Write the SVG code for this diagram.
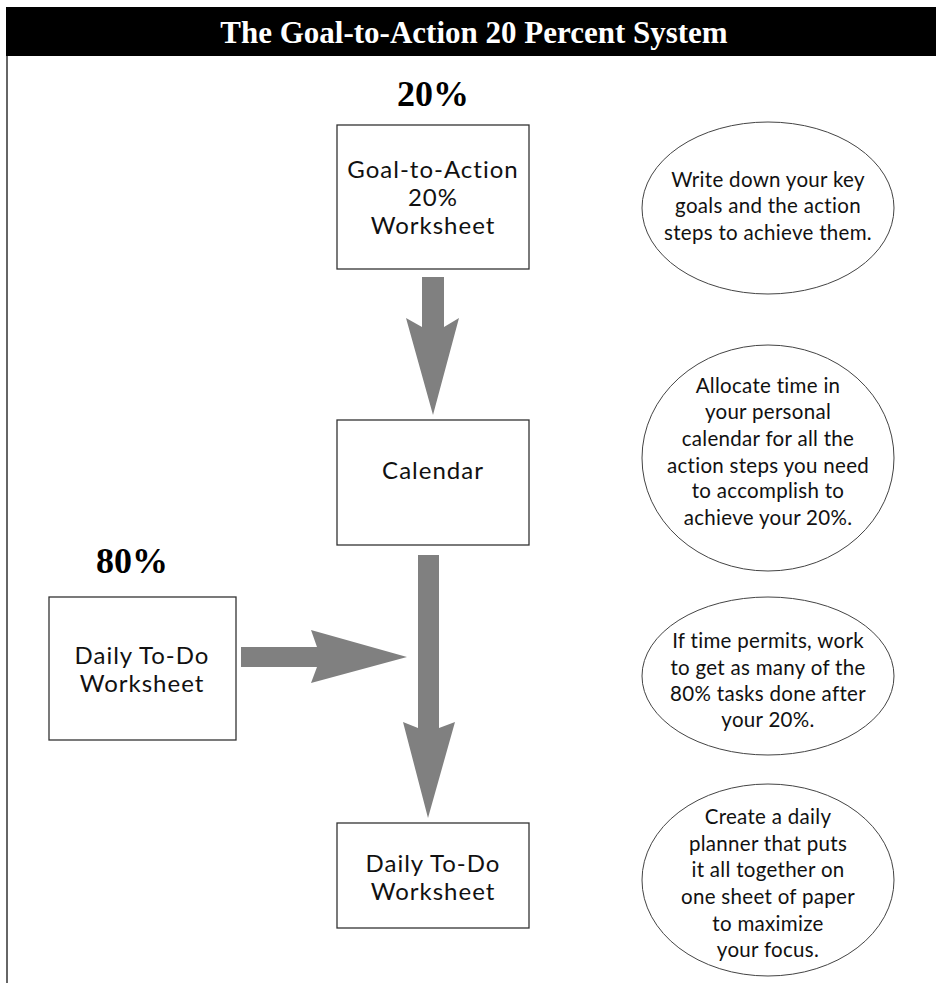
<svg xmlns="http://www.w3.org/2000/svg" width="936" height="983" viewBox="0 0 936 983">
<style>
.box{fill:#fff;stroke:#333;stroke-width:1.3}
.ell{fill:#fff;stroke:#444;stroke-width:1}
.bt{font-family:Lato,"Open Sans",sans-serif;font-size:24px;letter-spacing:1px;fill:#111;text-anchor:middle}
.et{font-family:Lato,"Open Sans",sans-serif;font-size:20.5px;letter-spacing:0.3px;fill:#111;text-anchor:middle}
.pct{font-family:"Liberation Serif",serif;font-weight:bold;font-size:36px;fill:#000;text-anchor:middle}
.arr{fill:#808080}
</style>
<rect x="0" y="0" width="936" height="983" fill="#fff"/>
<g id="title">
<rect x="6" y="7" width="930" height="49" fill="#000"/>
<text x="474" y="43" font-family="Liberation Serif,serif" font-weight="bold" font-size="31" fill="#fff" text-anchor="middle">The Goal-to-Action 20 Percent System</text>
</g>
<line x1="7" y1="56" x2="7" y2="983" stroke="#333" stroke-width="1.5"/>
<g id="label20"><text class="pct" x="433" y="106">20%</text></g>
<g id="label80"><text class="pct" x="132" y="573">80%</text></g>
<g id="connectors">
<polygon class="arr" points="422,277 444,277 444,327 459,318 433,415 406,318 422,327"/>
<polygon class="arr" points="418,555 439,555 439,728 455,722 428,818 403,722 418,728"/>
<polygon class="arr" points="241,647 317,647 311,630 407,657 311,683 317,667 241,667"/>
</g>
<g id="goal-worksheet">
<rect class="box" x="337" y="125" width="192" height="144"/>
<text class="bt" x="433" y="178">Goal-to-Action</text>
<text class="bt" x="433" y="206">20%</text>
<text class="bt" x="433" y="234">Worksheet</text>
</g>
<g id="calendar">
<rect class="box" x="337" y="420" width="192" height="125"/>
<text class="bt" x="433" y="479">Calendar</text>
</g>
<g id="daily-todo-left">
<rect class="box" x="49" y="597" width="187" height="143"/>
<text class="bt" x="142" y="664">Daily To-Do</text>
<text class="bt" x="142" y="692">Worksheet</text>
</g>
<g id="daily-todo-bottom">
<rect class="box" x="337" y="823" width="192" height="105"/>
<text class="bt" x="433" y="872">Daily To-Do</text>
<text class="bt" x="433" y="900">Worksheet</text>
</g>
<g id="note1">
<ellipse class="ell" cx="768" cy="208" rx="126" ry="86"/>
<text class="et" x="768" y="187">Write down your key</text>
<text class="et" x="768" y="213">goals and the action</text>
<text class="et" x="768" y="240">steps to achieve them.</text>
</g>
<g id="note2">
<ellipse class="ell" cx="768" cy="458" rx="126" ry="113"/>
<text class="et" x="768" y="393">Allocate time in</text>
<text class="et" x="768" y="419">your personal</text>
<text class="et" x="768" y="446">calendar for all the</text>
<text class="et" x="768" y="473">action steps you need</text>
<text class="et" x="768" y="498">to accomplish to</text>
<text class="et" x="768" y="525">achieve your 20%.</text>
</g>
<g id="note3">
<ellipse class="ell" cx="768" cy="676" rx="126" ry="79"/>
<text class="et" x="768" y="648">If time permits, work</text>
<text class="et" x="768" y="675">to get as many of the</text>
<text class="et" x="768" y="701">80% tasks done after</text>
<text class="et" x="768" y="727">your 20%.</text>
</g>
<g id="note4">
<ellipse class="ell" cx="768" cy="880" rx="126" ry="96"/>
<text class="et" x="768" y="824">Create a daily</text>
<text class="et" x="768" y="851">planner that puts</text>
<text class="et" x="768" y="877">it all together on</text>
<text class="et" x="768" y="904">one sheet of paper</text>
<text class="et" x="768" y="931">to maximize</text>
<text class="et" x="768" y="957">your focus.</text>
</g>
</svg>
